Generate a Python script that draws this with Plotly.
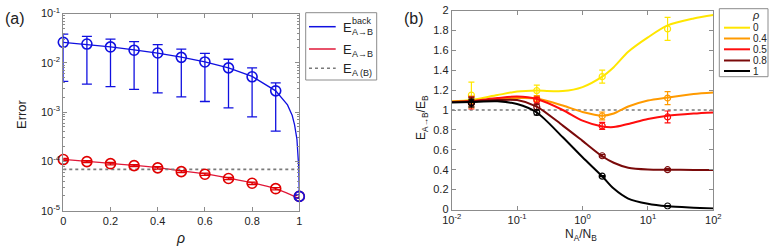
import plotly.graph_objects as go

W, H = 772, 249

# ---------------- Panel (a) data ----------------
rho = [0, 0.1, 0.2, 0.3, 0.4, 0.5, 0.6, 0.7, 0.8, 0.9, 1.0]
back_val = [0.026, 0.024, 0.021, 0.018, 0.0158, 0.0129, 0.0104, 0.0079, 0.0052, 0.0027, 1.95e-5]
back_hi = [0.0383, 0.0343, 0.0303, 0.0268, 0.0233, 0.019, 0.0156, 0.0118, 0.0079, 0.0039, 2.1e-5]
back_lo = [0.0042, 0.0037, 0.0033, 0.0029, 0.00246, 0.00204, 0.00164, 0.00122, 0.0008, 0.00041, 1.8e-5]
fwd_val = [1.09e-4, 9.9e-5, 9.0e-5, 8.2e-5, 7.4e-5, 6.2e-5, 5.5e-5, 4.5e-5, 3.6e-5, 2.8e-5, 1.95e-5]
fwd_err = [6e-6, 5e-6, 5e-6, 4e-6, 4e-6, 3e-6, 3e-6, 2.5e-6, 2e-6, 1.5e-6, 1e-6]
back_curve_rho = [0, 0.1, 0.2, 0.3, 0.4, 0.5, 0.6, 0.7, 0.8, 0.9, 0.95, 0.97, 0.98, 0.99, 0.995, 0.998, 1.0]
back_curve_val = [0.026, 0.0237, 0.0211, 0.0183, 0.0157, 0.013, 0.0105, 0.0079, 0.0053, 0.0027,
                  0.0014, 8.5e-4, 5.5e-4, 2.8e-4, 1.5e-4, 7e-5, 1.9e-5]
fwd_curve_rho = [0, 0.1, 0.2, 0.3, 0.4, 0.5, 0.6, 0.7, 0.8, 0.9, 1.0]
fwd_curve_val = [1.1e-4, 1.0e-4, 9.1e-5, 8.3e-5, 7.5e-5, 6.4e-5, 5.6e-5, 4.6e-5, 3.7e-5, 2.8e-5, 1.75e-5]
ref_a = 6.9e-5

# ---------------- Panel (b) data ----------------
ratio_pts = [0.02, 0.2, 2, 20]
ratio_curve = [0.01, 0.02, 0.05, 0.1, 0.2, 0.5, 1, 2, 3, 5, 10, 20, 50, 100]
rho_labels = ["0", "0.4", "0.5", "0.8", "1"]
pts_val = [
    [1.15, 1.195, 1.335, 1.815],
    [1.09, 1.115, 0.94, 1.12],
    [1.07, 1.10, 0.84, 0.93],
    [1.08, 1.03, 0.54, 0.40],
    [1.07, 0.975, 0.335, 0.035],
]
pts_err = [
    [0.13, 0.055, 0.065, 0.115],
    [0.05, 0.03, 0.04, 0.065],
    [0.06, 0.03, 0.035, 0.06],
    [0.05, 0.03, 0.012, 0.01],
    [0.04, 0.025, 0.006, 0.005],
]
curve_val = [
    [1.085, 1.10, 1.15, 1.185, 1.195, 1.19, 1.23, 1.335, 1.43, 1.585, 1.73, 1.85, 1.92, 1.955],
    [1.085, 1.09, 1.11, 1.12, 1.115, 1.045, 0.98, 0.943, 0.965, 1.035, 1.095, 1.125, 1.16, 1.175],
    [1.08, 1.09, 1.12, 1.135, 1.11, 1.0, 0.893, 0.835, 0.828, 0.86, 0.91, 0.943, 0.965, 0.976],
    [1.08, 1.085, 1.10, 1.10, 1.035, 0.843, 0.69, 0.535, 0.47, 0.42, 0.402, 0.40, 0.398, 0.398],
    [1.075, 1.08, 1.087, 1.06, 0.975, 0.726, 0.525, 0.334, 0.21, 0.11, 0.057, 0.032, 0.018, 0.01],
]
ref_b = 1.0
colors_b = ["#ffe600", "#ff9a00", "#ff0d0d", "#7a0a0a", "#000000"]

BLUE = "#1010e0"
RED_L = "#e01838"
RED_M = "#e00000"
GRAY = "#7a7a7a"
AXC = "#8c8c8c"
FONT = "Liberation Sans, Arial, sans-serif"

fig = go.Figure()

# ---- panel a traces ----
fig.add_trace(go.Scatter(x=back_curve_rho, y=back_curve_val, mode="lines",
                         line=dict(color=BLUE, width=1.3), xaxis="x", yaxis="y",
                         showlegend=False, cliponaxis=False))
fig.add_trace(go.Scatter(x=fwd_curve_rho, y=fwd_curve_val, mode="lines",
                         line=dict(color=RED_L, width=1.3, shape="spline"), xaxis="x", yaxis="y",
                         showlegend=False, cliponaxis=False))
fig.add_trace(go.Scatter(x=[0, 1], y=[ref_a, ref_a], mode="lines",
                         line=dict(color=GRAY, width=1.6, dash="dot"), xaxis="x", yaxis="y",
                         showlegend=False))
fig.add_trace(go.Scatter(
    x=rho, y=fwd_val, mode="markers", xaxis="x", yaxis="y", showlegend=False, cliponaxis=False,
    marker=dict(symbol="circle-open", size=10, color=RED_M, line=dict(width=1.6, color=RED_M)),
    error_y=dict(type="data", array=fwd_err, color=RED_M, thickness=1.3, width=5)))
fig.add_trace(go.Scatter(
    x=rho, y=back_val, mode="markers", xaxis="x", yaxis="y", showlegend=False, cliponaxis=False,
    marker=dict(symbol="circle-open", size=10, color=BLUE, line=dict(width=1.6, color=BLUE)),
    error_y=dict(type="data", symmetric=False,
                 array=[h - v for h, v in zip(back_hi, back_val)],
                 arrayminus=[v - l for v, l in zip(back_val, back_lo)],
                 color=BLUE, thickness=1.3, width=5)))

# ---- panel b traces ----
fig.add_trace(go.Scatter(x=[0.01, 100], y=[ref_b, ref_b], mode="lines",
                         line=dict(color=GRAY, width=1.6, dash="dot"), xaxis="x2", yaxis="y2",
                         showlegend=False))
for i in range(len(rho_labels)):
    c = colors_b[i]
    fig.add_trace(go.Scatter(x=ratio_curve, y=curve_val[i], mode="lines",
                             line=dict(color=c, width=2, shape="spline", smoothing=0.8),
                             xaxis="x2", yaxis="y2", showlegend=False))
    fig.add_trace(go.Scatter(
        x=ratio_pts, y=pts_val[i], mode="markers", xaxis="x2", yaxis="y2", showlegend=False,
        marker=dict(symbol="circle-open", size=6, color=c, line=dict(width=1.2, color=c)),
        error_y=dict(type="data", array=pts_err[i], color=c, thickness=1.2, width=3)))


def px(x):
    return x / W


def py(y):
    return 1 - y / H


axis_common = dict(showline=True, mirror="ticks", linecolor=AXC, linewidth=1, automargin=False,
                   ticks="inside", tickcolor=AXC, ticklen=4, showgrid=False, zeroline=False,
                   tickfont=dict(family=FONT, size=11, color="#222"))

fig.update_layout(
    width=W, height=H, margin=dict(l=0, r=0, t=0, b=0, pad=0),
    paper_bgcolor="white", plot_bgcolor="white",
    font=dict(family=FONT, color="#222"),
    xaxis=dict(domain=[px(63.3), px(299.3)], range=[0, 1], anchor="y",
               tickvals=[0, 0.2, 0.4, 0.6, 0.8, 1], ticktext=["0", "0.2", "0.4", "0.6", "0.8", "1"],
               **axis_common),
    yaxis=dict(domain=[py(210.7), py(13.5)], type="log", range=[-5, -1], anchor="x",
               tickvals=[1e-5, 1e-4, 1e-3, 1e-2, 1e-1],
               ticktext=["10<sup>-5</sup>", "10<sup>-4</sup>", "10<sup>-3</sup>", "10<sup>-2</sup>", "10<sup>-1</sup>"],
               minor=dict(ticks="inside", ticklen=2, tickcolor=AXC, dtick="D1"),
               **axis_common),
    xaxis2=dict(domain=[px(451.7), px(713.3)], type="log", range=[-2, 2], anchor="y2",
                tickvals=[0.01, 0.1, 1, 10, 100],
                ticktext=["10<sup>-2</sup>", "10<sup>-1</sup>", "10<sup>0</sup>", "10<sup>1</sup>", "10<sup>2</sup>"],
                **axis_common),
    yaxis2=dict(domain=[py(209.5), py(10.5)], range=[0, 2], anchor="x2",
                tickvals=[0, 0.2, 0.4, 0.6, 0.8, 1, 1.2, 1.4, 1.6, 1.8, 2],
                ticktext=["0", "0.2", "0.4", "0.6", "0.8", "1", "1.2", "1.4", "1.6", "1.8", "2"],
                **axis_common),
)

ann = []
shapes = []


def text(x, y, t, size=12, xanchor="center", yanchor="middle", angle=0):
    ann.append(dict(x=px(x), y=py(y), xref="paper", yref="paper", text=t, showarrow=False,
                    xanchor=xanchor, yanchor=yanchor, textangle=angle,
                    font=dict(family=FONT, size=size, color="#222")))


# panel labels & axis titles
text(15, 18.5, "(a)", size=16)
text(414, 18.5, "(b)", size=16)
text(22, 114, "Error", size=13, angle=-90)
text(180, 238, "<i>ρ</i>", size=14)
text(581, 235, "N<sub>A</sub>/N<sub>B</sub>", size=12)
text(422, 118, "E<sub>A→B</sub>/E<sub>B</sub>", size=12, angle=-90)

# legend (a)
shapes.append(dict(type="rect", xref="paper", yref="paper", x0=px(305.7), x1=px(376.7),
                   y0=py(80), y1=py(12.7), line=dict(color=AXC, width=1), fillcolor="white"))
leg_a = [(26.7, BLUE, "solid"), (49, RED_L, "solid"), (68.3, GRAY, "dot")]
for yy, c, d in leg_a:
    shapes.append(dict(type="line", xref="paper", yref="paper", x0=px(309), x1=px(335.7),
                       y0=py(yy), y1=py(yy), line=dict(color=c, width=1.5, dash=d)))
text(341, 27, "E", size=13, xanchor="left")
text(350, 21, "back", size=9, xanchor="left")
text(350, 32, "A→B", size=9, xanchor="left")
text(341, 49, "E", size=13, xanchor="left")
text(350, 54, "A→B", size=9, xanchor="left")
text(341, 68, "E", size=13, xanchor="left")
text(350, 73, "A (B)", size=9, xanchor="left")

# legend (b)
shapes.append(dict(type="rect", xref="paper", yref="paper", x0=px(719.3), x1=px(768),
                   y0=py(76.7), y1=py(8.7), line=dict(color=AXC, width=1), fillcolor="white"))
text(755, 15, "<i>ρ</i>", size=11)
leg_y = [27.7, 38.5, 49.3, 60.5, 71]
for yy, c, lab in zip(leg_y, colors_b, rho_labels):
    shapes.append(dict(type="line", xref="paper", yref="paper", x0=px(724), x1=px(750),
                       y0=py(yy), y1=py(yy), line=dict(color=c, width=2)))
    text(750.5, yy, lab, size=10, xanchor="left")

fig.update_layout(annotations=ann, shapes=shapes)
fig.write_html("out.html", config={"displayModeBar": False},
               post_script="document.body.style.margin='0';document.body.style.overflow='hidden';")
